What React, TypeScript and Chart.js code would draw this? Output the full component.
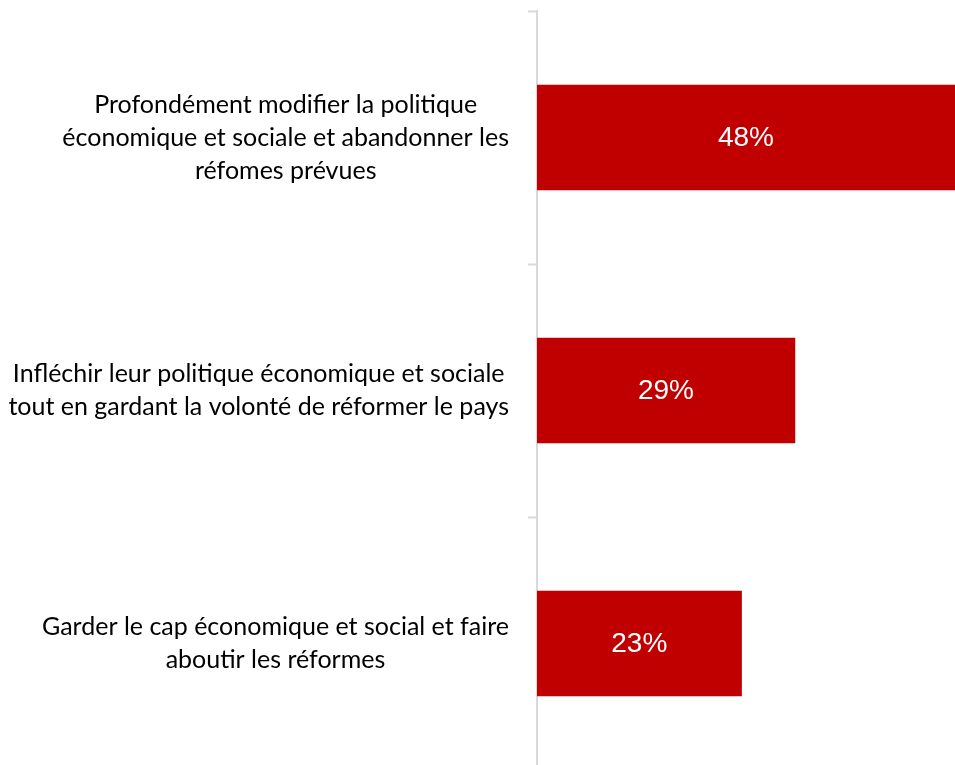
import React, { useEffect, useRef } from "react";
import { Chart, registerables } from "chart.js";

Chart.register(...registerables);

const categories: string[][] = [
  ["Profondément modifier la politique", "économique et sociale et abandonner les", "réfomes prévues"],
  ["Infléchir leur politique économique et sociale", "tout en gardant la volonté de réformer le pays"],
  ["Garder le cap économique et social et faire", "aboutir les réformes"],
];
const values: number[] = [48, 29, 23];
const valueLabels: string[] = ["48%", "29%", "23%"];

const LABEL_FONT = "25px Lato";
const LINE_H = 33;

const labelPlugin = {
  id: "customLabels",
  afterDraw(chart: any) {
    const ctx = chart.ctx;
    const y = chart.scales.y;
    const area = chart.chartArea;
    ctx.save();
    ctx.font = LABEL_FONT;
    ctx.fillStyle = "#000000";
    ctx.textAlign = "center";
    ctx.textBaseline = "middle";
    categories.forEach((lines, i) => {
      const cy = y.getPixelForValue(i);
      const widest = Math.max(...lines.map((l) => ctx.measureText(l).width));
      const cx = y.right - 28 - widest / 2;
      const top = cy - ((lines.length - 1) * LINE_H) / 2;
      lines.forEach((l, j) => ctx.fillText(l, cx, top + j * LINE_H));
    });
    const meta = chart.getDatasetMeta(0);
    ctx.font = "28px 'Liberation Sans'";
    ctx.fillStyle = "#ffffff";
    meta.data.forEach((bar: any, i: number) => {
      const right = Math.min(bar.x, area.right);
      const cx = (bar.base + right) / 2;
      ctx.fillText(valueLabels[i], cx, bar.y + 1);
    });
    ctx.restore();
  },
};

export default function App() {
  const ref = useRef<HTMLCanvasElement>(null);
  useEffect(() => {
    if (!ref.current) return;
    const chart = new Chart(ref.current, {
      type: "bar",
      data: {
        labels: categories.map((c) => c.join(" ")),
        datasets: [
          {
            data: values,
            backgroundColor: "#C00000",
            barThickness: 105,
          },
        ],
      },
      options: {
        indexAxis: "y",
        animation: false,
        responsive: false,
        layout: { padding: { top: 11, bottom: 5, left: 0, right: 0 } },
        plugins: { legend: { display: false }, tooltip: { enabled: false } },
        scales: {
          x: { display: false, min: 0, max: 47 },
          y: {
            afterFit(scale: any) {
              scale.width = 537;
            },
            ticks: { display: false },
            grid: {
              offset: true,
              drawOnChartArea: false,
              drawTicks: true,
              tickLength: 9,
              tickWidth: 2,
              tickColor: "#d9d9d9",
              color: "#d9d9d9",
            },
            border: { display: true, color: "#d9d9d9", width: 2 },
          },
        },
      },
      plugins: [labelPlugin],
    });
    return () => chart.destroy();
  }, []);
  return (
    <div style={{ position: "fixed", top: 0, left: 0, width: 955, height: 765, overflow: "hidden", background: "#fff" }}>
      <canvas ref={ref} width={955} height={775} style={{ display: "block" }} />
    </div>
  );
}
